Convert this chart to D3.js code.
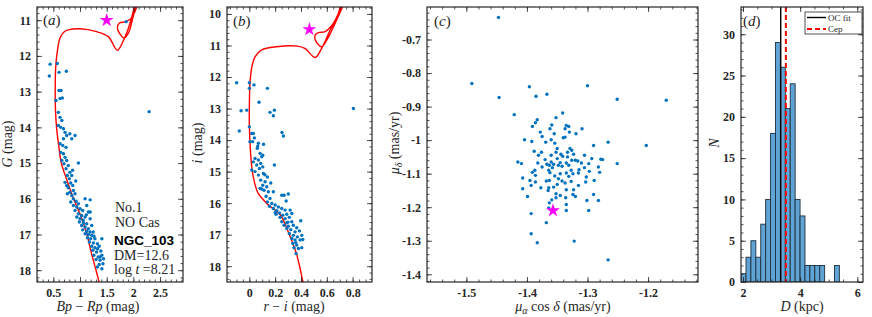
<!DOCTYPE html>
<html>
<head>
<meta charset="utf-8">
<script src="https://cdn.jsdelivr.net/npm/d3@7"></script>
<style>
  body { margin: 0; background: #fff; }
  svg { display: block; }
</style>
</head>
<body>
<svg id="chart" width="872" height="317"></svg>
<script>
let d3 = window.d3;

// ---------------- data ----------------

// panel (a): Gaia CMD, [Bp-Rp, G]
const cmdA = [
  [0.44,12.23],[0.575,12.21],[0.425,12.56],[0.607,12.46],[0.744,12.43],[0.607,12.97],[0.645,12.97],
  [0.55,13.25],[0.626,13.19],[0.669,13.18],[2.295,13.56],[1.864,11.04],
  [0.594,13.58],[0.626,13.72],[0.66,13.81],[0.594,13.95],[0.64,14.0],[0.69,14.04],[0.72,14.14],
  [0.75,14.23],[0.907,14.23],[0.81,14.18],[0.845,14.32],[0.69,14.32],[0.626,14.46],[0.676,14.51],
  [0.738,14.56],[0.64,14.70],[0.69,14.74],[0.72,14.84],[0.66,14.93],[0.75,14.93],[0.97,15.0],
  [0.70,15.02],[0.78,15.07],[0.738,15.16],[0.81,15.26],[0.763,15.35],[0.845,15.35],[0.80,15.44],
  [0.72,15.54],[0.826,15.56],[0.75,15.63],[0.864,15.63],[0.78,15.69],[0.876,15.77],[0.81,15.82],
  [0.763,15.86],[0.907,15.86],[0.845,15.91],[1.095,16.0],[1.19,16.03],[0.876,16.0],[0.926,16.07],
  [0.826,16.09],[0.97,16.14],[0.876,16.19],[1.126,16.19],[0.94,16.23],[1.0,16.28],[0.907,16.33],
  [1.05,16.33],[1.19,16.37],[0.97,16.42],[1.03,16.47],[0.94,16.51],[1.095,16.51],[1.0,16.56],
  [1.19,16.56],[0.988,16.65],[1.063,16.68],[1.126,16.70],[1.03,16.75],[1.22,16.75],[1.095,16.79],
  [1.157,16.84],[1.05,16.87],[1.126,16.91],[1.19,16.93],[1.25,16.93],[1.095,16.98],[1.157,17.0],
  [1.22,17.02],[1.14,17.09],[1.20,17.12],[1.28,17.12],[1.41,17.12],[1.175,17.21],[1.25,17.24],
  [1.326,17.26],[1.22,17.33],[1.28,17.37],[1.36,17.33],[1.24,17.44],[1.31,17.49],[1.39,17.46],
  [1.26,17.58],[1.34,17.63],[1.41,17.58],[1.30,17.70],[1.376,17.72],[1.44,17.68],[1.36,17.84],
  [1.43,17.82],[1.326,17.91],[1.41,17.96],[1.157,16.37],[1.376,17.63],[0.86,15.2],[0.92,15.5],
  [1.06,16.6],[1.12,16.45],[1.26,17.05],[1.33,17.4]
];
// panel (a): isochrone, [Bp-Rp, G]
const isoA = [
  [1.37,18.4],[1.30,18.0],[1.21,17.5],[1.13,17.0],[1.02,16.5],[0.88,16.0],[0.76,15.5],[0.65,15.0],
  [0.60,14.5],[0.56,14.0],[0.54,13.5],[0.535,13.0],[0.545,12.3],[0.575,11.87],[0.625,11.5],
  [0.70,11.33],[0.78,11.27],[1.0,11.24],[1.31,11.32],[1.53,11.46],[1.70,11.84],[1.81,11.58],
  [1.91,11.21],[2.00,10.74],[2.03,10.46],[2.08,10.46],[1.97,10.93],[1.86,11.04],[1.74,11.08],
  [1.70,11.21],[1.75,11.39],[1.83,11.50],[1.91,11.35],[1.99,10.93],[2.06,10.51],[2.08,10.4]
];
const cepA = [1.5, 11.0];

// panel (b): SDSS-like CMD, [r-i, i]
const cmdB = [
  [-0.098,12.18],[0.0,12.18],[0.0,12.36],[0.036,12.25],[0.14,12.36],[0.075,12.80],[-0.064,13.07],
  [-0.02,13.05],[0.16,13.12],[0.194,13.05],[0.186,13.23],[0.806,13.0],[-0.078,13.71],[0.0,13.58],
  [0.019,13.79],[0.031,13.79],[0.253,13.76],[0.264,13.87],[0.039,13.93],[0.005,14.05],[0.026,14.05],
  [0.07,14.10],[0.11,14.13],[0.062,14.26],[0.083,14.42],[0.096,14.53],[0.044,14.58],[0.07,14.63],
  [0.031,14.69],[0.088,14.74],[0.057,14.79],[0.194,14.79],[0.104,14.85],[0.078,14.90],[0.019,14.95],
  [0.044,15.0],[0.109,15.06],[0.07,15.11],[0.14,15.17],[0.088,15.27],[0.122,15.32],[0.166,15.36],
  [0.104,15.43],[0.135,15.48],[0.083,15.53],[0.114,15.59],[0.147,15.64],[0.186,15.64],[0.251,15.75],
  [0.269,15.75],[0.302,15.71],[0.13,15.78],[0.16,15.85],[0.285,15.93],[0.14,15.96],[0.174,16.01],
  [0.155,16.10],[0.2,16.06],[0.225,16.12],[0.186,16.17],[0.251,16.17],[0.212,16.24],[0.277,16.22],
  [0.316,16.22],[0.233,16.31],[0.207,16.35],[0.259,16.38],[0.29,16.35],[0.329,16.33],[0.238,16.45],
  [0.277,16.49],[0.31,16.45],[0.398,16.56],[0.251,16.59],[0.29,16.62],[0.329,16.59],[0.269,16.70],
  [0.302,16.73],[0.341,16.70],[0.367,16.78],[0.29,16.80],[0.321,16.84],[0.388,16.88],[0.354,16.91],
  [0.31,16.96],[0.341,17.02],[0.406,17.02],[0.372,17.07],[0.329,17.12],[0.354,17.17],[0.393,17.17],
  [0.336,17.28],[0.367,17.33],[0.414,17.15],[0.346,17.41],[0.406,17.41],[0.38,17.44],[0.362,17.60],
  [0.065,14.19],[0.104,14.48],[0.12,15.1],[0.095,15.55],[0.2,16.3],[0.3,16.6],[0.36,17.25]
];
// panel (b): isochrone, [r-i, i]
const isoB = [
  [0.425,18.7],[0.40,18.2],[0.365,17.6],[0.33,17.2],[0.30,16.9],[0.27,16.6],[0.245,16.4],[0.20,16.22],
  [0.15,16.07],[0.11,15.9],[0.07,15.7],[0.04,15.35],[0.02,14.9],[0.008,14.3],[0.0,13.5],[0.0,13.0],
  [0.005,12.2],[0.02,11.67],[0.044,11.36],[0.096,11.14],[0.21,11.04],[0.37,11.02],[0.43,11.09],
  [0.51,11.38],[0.56,11.09],[0.626,10.51],[0.69,9.98],[0.71,9.7],[0.72,9.7],[0.65,10.3],[0.587,10.56],
  [0.535,10.59],[0.51,10.67],[0.517,10.88],[0.56,11.04],[0.6,10.83],[0.664,10.3],[0.73,9.7]
];
const cepB = [0.465, 10.49];

// panel (c): proper motions, [pmra cos(dec), pmdec]
const pmC = [
  [-1.447,-0.634],[-1.491,-0.831],[-1.446,-0.873],[-1.396,-0.841],[-1.385,-0.869],[-1.367,-0.863],
  [-1.30,-0.838],[-1.251,-0.878],[-1.170,-0.881],[-1.421,-0.924],[-1.341,-0.919],[-1.352,-0.933],
  [-1.383,-0.939],[-1.386,-0.948],[-1.391,-0.959],[-1.359,-0.955],[-1.335,-0.956],[-1.331,-0.959],
  [-1.362,-0.966],[-1.337,-0.966],[-1.309,-0.966],[-1.330,-0.976],[-1.378,-0.976],[-1.319,-0.981],
  [-1.355,-0.981],[-1.375,-0.989],[-1.340,-0.993],[-1.337,-0.991],[-1.404,-0.999],[-1.392,-1.004],
  [-1.36,-0.999],[-1.369,-1.006],[-1.354,-1.009],[-1.29,-1.016],[-1.266,-1.006],[-1.203,-1.016],
  [-1.350,-1.025],[-1.329,-1.025],[-1.326,-1.030],[-1.388,-1.033],[-1.352,-1.036],[-1.333,-1.036],
  [-1.376,-1.036],[-1.344,-1.042],[-1.323,-1.042],[-1.381,-1.045],[-1.36,-1.045],[-1.341,-1.048],
  [-1.305,-1.045],[-1.333,-1.050],[-1.350,-1.055],[-1.370,-1.058],[-1.293,-1.055],[-1.275,-1.058],
  [-1.326,-1.060],[-1.320,-1.060],[-1.316,-1.062],[-1.415,-1.065],[-1.409,-1.070],[-1.382,-1.068],
  [-1.36,-1.065],[-1.345,-1.067],[-1.335,-1.068],[-1.310,-1.068],[-1.298,-1.070],[-1.251,-1.070],
  [-1.367,-1.072],[-1.363,-1.075],[-1.356,-1.072],[-1.348,-1.075],[-1.342,-1.078],[-1.331,-1.075],
  [-1.375,-1.080],[-1.358,-1.082],[-1.305,-1.082],[-1.282,-1.080],[-1.387,-1.090],[-1.364,-1.090],
  [-1.327,-1.090],[-1.314,-1.088],[-1.297,-1.093],[-1.391,-1.096],[-1.362,-1.097],[-1.345,-1.100],
  [-1.335,-1.098],[-1.324,-1.100],[-1.315,-1.098],[-1.280,-1.096],[-1.386,-1.105],[-1.354,-1.107],
  [-1.331,-1.108],[-1.302,-1.110],[-1.407,-1.113],[-1.348,-1.115],[-1.395,-1.120],[-1.368,-1.122],
  [-1.363,-1.120],[-1.342,-1.122],[-1.327,-1.123],[-1.289,-1.120],[-1.303,-1.125],[-1.386,-1.125],
  [-1.337,-1.128],[-1.350,-1.132],[-1.393,-1.135],[-1.315,-1.135],[-1.407,-1.145],[-1.377,-1.142],
  [-1.364,-1.142],[-1.356,-1.140],[-1.335,-1.148],[-1.323,-1.148],[-1.365,-1.150],[-1.352,-1.160],
  [-1.345,-1.165],[-1.324,-1.162],[-1.399,-1.168],[-1.320,-1.168],[-1.336,-1.172],[-1.290,-1.162],
  [-1.352,-1.172],[-1.359,-1.178],[-1.301,-1.180],[-1.282,-1.180],[-1.363,-1.187],[-1.335,-1.192],
  [-1.364,-1.202],[-1.335,-1.210],[-1.298,-1.210],[-1.393,-1.219],[-1.368,-1.246],[-1.393,-1.279],
  [-1.383,-1.306],[-1.322,-1.301],[-1.266,-1.357],[-1.278,-1.057]
];
const cepC = [-1.357, -1.21];

// panel (d): distance histogram
const histEdges = [1.933,2.105,2.277,2.449,2.621,2.793,2.965,3.137,3.309,3.481,3.653,
                   3.825,3.997,4.169,4.341,4.513,4.685,4.857,5.029,5.201,5.373];
const histCounts = [1,3,5,3,7,10,18,29,26,21,24,10,8,2,2,2,2,0,0,2];
const distOC = 3.32;
const distCep = 3.50;

// tick labels
const ticksAx = [0.5, 1, 1.5, 2, 2.5],  ticksAy = [11, 12, 13, 14, 15, 16, 17, 18];
const ticksBx = [0, 0.2, 0.4, 0.6, 0.8], ticksBy = [10, 11, 12, 13, 14, 15, 16, 17, 18];
const ticksCx = [-1.5, -1.4, -1.3, -1.2], ticksCy = [-0.7, -0.8, -0.9, -1, -1.1, -1.2, -1.3, -1.4];
const ticksDx = [2, 4, 6],               ticksDy = [0, 5, 10, 15, 20, 25, 30];

const infoLines = ["No.1", "NO Cas", "NGC_103", "DM=12.6", "8.21"];

// ---------------- drawing ----------------
const svg = d3.select("#chart");
const INK = "#262626";
const DOT = "#0072bd";
const SERIF = "'Liberation Serif', 'Times New Roman', serif";

const BOX = {
  a: {left: 37,  right: 183, top: 7, bottom: 282},
  b: {left: 227, right: 372, top: 7, bottom: 282},
  c: {left: 427, right: 698, top: 7, bottom: 282},
  d: {left: 741, right: 863, top: 7, bottom: 282}
};
const XLAB_Y = 311;

let panel = function (id, box, xd, yd) {
  let x = d3.scaleLinear().domain(xd).range([box.left, box.right]);
  let y = d3.scaleLinear().domain(yd).range([box.bottom, box.top]);
  svg.append("clipPath").attr("id", "clip" + id)
    .append("rect")
      .attr("x", box.left).attr("y", box.top)
      .attr("width", box.right - box.left).attr("height", box.bottom - box.top);
  let g = svg.append("g").attr("clip-path", "url(#clip" + id + ")");
  return {x: x, y: y, g: g, box: box};
};

let drawAxes = function (p, xt, yt, xMinor, yMinor) {
  let b = p.box;
  let g = svg.append("g").attr("color", INK);
  let fmt = d => String(d);
  let put = function (axis, tr, vals, size, f) {
    let a = g.append("g").attr("transform", tr)
      .call(axis.tickValues(vals).tickSize(size).tickPadding(6).tickFormat(f));
    a.select(".domain").remove();
    a.attr("font-family", SERIF).attr("font-size", 12).attr("font-weight", "bold");
    a.selectAll("line").attr("stroke-width", 0.8);
    return a;
  };
  let xlo = d3.min(p.x.domain()), xhi = d3.max(p.x.domain());
  let ylo = d3.min(p.y.domain()), yhi = d3.max(p.y.domain());
  let xm = xMinor.filter(v => v > xlo && v < xhi);
  let ym = yMinor.filter(v => v > ylo && v < yhi);
  put(d3.axisBottom(p.x), `translate(0,${b.bottom})`, xt, -5, fmt);
  put(d3.axisTop(p.x), `translate(0,${b.top})`, xt, -5, "");
  put(d3.axisLeft(p.y), `translate(${b.left},0)`, yt, -5, fmt);
  put(d3.axisRight(p.y), `translate(${b.right},0)`, yt, -5, "");
  put(d3.axisBottom(p.x), `translate(0,${b.bottom})`, xm, -2.5, "");
  put(d3.axisTop(p.x), `translate(0,${b.top})`, xm, -2.5, "");
  put(d3.axisLeft(p.y), `translate(${b.left},0)`, ym, -2.5, "");
  put(d3.axisRight(p.y), `translate(${b.right},0)`, ym, -2.5, "");
  svg.append("rect")
    .attr("x", b.left).attr("y", b.top)
    .attr("width", b.right - b.left).attr("height", b.bottom - b.top)
    .attr("fill", "none").attr("stroke", INK).attr("stroke-width", 1.2);
};

let minorTicks = (a, b, step) => d3.range(Math.round(a / step), Math.round(b / step) + 1).map(k => +(k * step).toFixed(4));

let label = function (x, y, parts, rotate, size) {
  let t = svg.append("text")
    .attr("x", x).attr("y", y)
    .attr("text-anchor", "middle")
    .attr("font-family", SERIF)
    .attr("font-size", size || 14)
    .attr("fill", INK);
  if (rotate) t.attr("transform", `rotate(-90,${x},${y})`);
  parts.forEach(function (pt) {
    let s = t.append("tspan").text(pt.t);
    if (pt.i) s.attr("font-style", "italic");
    if (pt.dy) s.attr("dy", pt.dy);
    if (pt.fs) s.attr("font-size", pt.fs);
  });
  return t;
};

let panelTag = function (x, y, letter) {
  label(x, y, [{t: "("}, {t: letter, i: true}, {t: ")"}], false, 15).attr("text-anchor", "start");
};

let star = d3.symbol().type(d3.symbolStar).size(60);

let dots = function (p, data) {
  p.g.append("g").selectAll("circle")
    .data(data)
    .join("circle")
      .attr("cx", d => p.x(d[0]))
      .attr("cy", d => p.y(d[1]))
      .attr("r", 1.7)
      .attr("fill", DOT);
};

let isoLine = function (p, data) {
  let line = d3.line().x(d => p.x(d[0])).y(d => p.y(d[1])).curve(d3.curveCatmullRom.alpha(0.5));
  p.g.append("path")
    .attr("d", line(data))
    .attr("fill", "none")
    .attr("stroke", "#ff0000")
    .attr("stroke-width", 1.4);
};

let cepStar = function (p, c) {
  p.g.append("path")
    .attr("d", star())
    .attr("transform", `translate(${p.x(c[0])},${p.y(c[1])})`)
    .attr("fill", "#ff00ff");
};

// (a)
let pA = panel("a", BOX.a, [0.194, 2.93], [18.33, 10.63]);
isoLine(pA, isoA);
dots(pA, cmdA);
cepStar(pA, cepA);
drawAxes(pA, ticksAx, ticksAy, minorTicks(0.1, 2.9, 0.1), minorTicks(10.6, 18.4, 0.2));
panelTag(43, 25, "a");
svg.append("g").attr("font-family", SERIF).attr("font-size", 14).attr("fill", INK)
  .call(g => {
    g.append("text").attr("x", 115).attr("y", 212).text(infoLines[0]);
    g.append("text").attr("x", 115).attr("y", 227).text(infoLines[1]);
    g.append("text").attr("x", 114).attr("y", 245).text(infoLines[2])
      .attr("font-family", "'Liberation Sans', Arial, sans-serif").attr("font-weight", "bold").attr("font-size", 13.5).attr("fill", "#000");
    g.append("text").attr("x", 114).attr("y", 260).text(infoLines[3]);
    let t = g.append("text").attr("x", 114).attr("y", 274);
    t.append("tspan").text("log ");
    t.append("tspan").text("t").attr("font-style", "italic");
    t.append("tspan").text(" =" + infoLines[4]);
  });
label(98, XLAB_Y, [{t: "Bp", i: true}, {t: " \u2212 "}, {t: "Rp", i: true}, {t: " (mag)"}]);
label(12, 144, [{t: "G", i: true}, {t: " (mag)"}], true);

// (b)
let pB = panel("b", BOX.b, [-0.173, 0.95], [18.5, 9.78]);
isoLine(pB, isoB);
dots(pB, cmdB);
cepStar(pB, cepB);
drawAxes(pB, ticksBx, ticksBy, minorTicks(-0.15, 0.95, 0.05), minorTicks(9.8, 18.4, 0.2));
panelTag(233, 26, "b");
label(294, XLAB_Y, [{t: "r", i: true}, {t: " \u2212 "}, {t: "i", i: true}, {t: " (mag)"}]);
label(202, 143, [{t: "i", i: true}, {t: " (mag)"}], true);

// (c)
let pC = panel("c", BOX.c, [-1.565, -1.1176], [-1.423, -0.603]);
dots(pC, pmC);
cepStar(pC, cepC);
drawAxes(pC, ticksCx, ticksCy, minorTicks(-1.56, -1.12, 0.02), minorTicks(-1.42, -0.6, 0.02));
panelTag(434, 26, "c");
label(563, XLAB_Y, [{t: "\u03bc", i: true}, {t: "\u03b1", i: true, dy: 3, fs: 10}, {t: " cos ", dy: -3}, {t: "\u03b4", i: true}, {t: " (mas/yr)"}]);
label(399, 143, [{t: "\u03bc", i: true}, {t: "\u03b4", i: true, dy: 3, fs: 10}, {t: " (mas/yr)", dy: -3}], true);

// (d)
let pD = panel("d", BOX.d, [1.93, 6.2], [0, 33.3]);
let bins = histCounts.map((c, i) => ({lo: histEdges[i], hi: histEdges[i + 1], n: c})).filter(b => b.n > 0);
pD.g.append("g").selectAll("rect")
  .data(bins)
  .join("rect")
    .attr("x", d => pD.x(d.lo))
    .attr("y", d => pD.y(d.n))
    .attr("width", d => pD.x(d.hi) - pD.x(d.lo))
    .attr("height", d => pD.y(0) - pD.y(d.n))
    .attr("fill", "#5fa4d4")
    .attr("stroke", "#1f2f3d")
    .attr("stroke-width", 0.9);
pD.g.append("line")
  .attr("x1", pD.x(distOC)).attr("x2", pD.x(distOC))
  .attr("y1", BOX.d.top).attr("y2", BOX.d.bottom)
  .attr("stroke", "#000").attr("stroke-width", 1.4);
pD.g.append("line")
  .attr("x1", pD.x(distCep)).attr("x2", pD.x(distCep))
  .attr("y1", BOX.d.top).attr("y2", BOX.d.bottom)
  .attr("stroke", "#ff0000").attr("stroke-width", 2).attr("stroke-dasharray", "5,3");
drawAxes(pD, ticksDx, ticksDy, minorTicks(2, 6, 0.5), minorTicks(0, 33, 1));
panelTag(743, 26, "d");
label(802, XLAB_Y, [{t: "D", i: true}, {t: " (kpc)"}]);
label(719, 143, [{t: "N", i: true}], true);

// legend
let lg = svg.append("g").attr("font-family", SERIF).attr("font-size", 9).attr("fill", INK);
lg.append("rect").attr("x", 805).attr("y", 12).attr("width", 57).attr("height", 22)
  .attr("fill", "#fff").attr("stroke", INK).attr("stroke-width", 0.8);
lg.append("line").attr("x1", 807).attr("x2", 826).attr("y1", 17.5).attr("y2", 17.5)
  .attr("stroke", "#000").attr("stroke-width", 1.4);
lg.append("line").attr("x1", 807).attr("x2", 826).attr("y1", 29).attr("y2", 29)
  .attr("stroke", "#ff0000").attr("stroke-width", 2).attr("stroke-dasharray", "5,3");
lg.append("text").attr("x", 828).attr("y", 20.5).text("OC fit");
lg.append("text").attr("x", 828).attr("y", 32).text("Cep");
</script>
</body>
</html>
